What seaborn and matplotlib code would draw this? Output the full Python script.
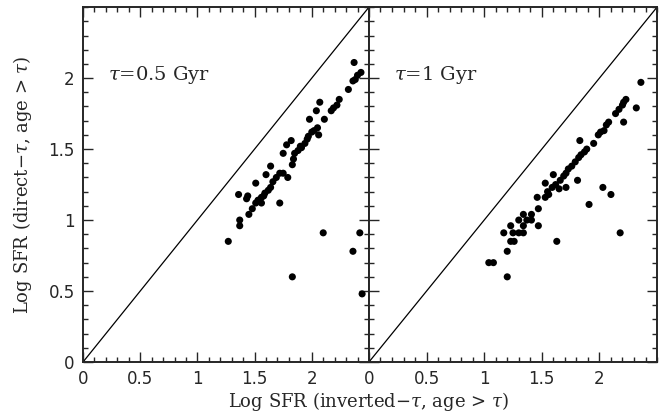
import numpy as np
import pandas as pd
import matplotlib
matplotlib.use("Agg")
import matplotlib.pyplot as plt
from matplotlib.ticker import MultipleLocator, FixedLocator
import seaborn as sns

# ==============================
# Data
# ==============================

left_x = [2.37, 2.43, 2.40, 2.38, 2.36, 2.32, 2.24, 2.22, 2.19, 2.17,
          2.07, 2.04, 2.11, 1.98, 2.05, 2.02, 2.00, 2.06, 1.97, 1.96,
          1.94, 1.91, 1.88, 1.85, 1.82, 1.78, 1.75, 1.84, 1.83, 1.64,
          1.60, 1.72, 1.75, 1.79, 1.69, 1.64, 1.62, 1.59, 1.56, 1.53,
          1.51, 1.56, 1.48, 1.45, 1.51, 1.44, 1.43, 1.36, 1.72, 1.37,
          1.37, 1.27, 2.10, 2.42, 2.36, 1.83, 2.44, 1.58, 1.66, 1.90]
left_y = [2.11, 2.04, 2.02, 1.99, 1.98, 1.92, 1.85, 1.81, 1.79, 1.77,
          1.83, 1.77, 1.71, 1.71, 1.65, 1.63, 1.62, 1.60, 1.59, 1.57,
          1.54, 1.51, 1.49, 1.47, 1.56, 1.53, 1.47, 1.43, 1.39, 1.38,
          1.32, 1.33, 1.33, 1.30, 1.30, 1.23, 1.21, 1.19, 1.16, 1.14,
          1.12, 1.12, 1.08, 1.04, 1.26, 1.17, 1.15, 1.18, 1.12, 1.00,
          0.96, 0.85, 0.91, 0.91, 0.78, 0.60, 0.48, 1.17, 1.27, 1.52]

right_x = [2.36, 2.23, 2.21, 2.20, 2.32, 2.17, 2.14, 2.21, 2.08, 2.06,
           2.04, 2.01, 1.99, 1.83, 1.89, 1.87, 1.84, 1.82, 1.79, 1.76,
           1.73, 1.71, 1.69, 1.66, 1.60, 1.81, 1.53, 1.59, 1.65, 1.71,
           1.56, 1.53, 1.46, 2.03, 2.10, 1.91, 1.47, 1.34, 1.41, 1.30,
           1.37, 1.41, 1.34, 1.47, 1.23, 1.17, 1.25, 1.30, 1.34, 1.23,
           1.26, 1.63, 2.18, 1.20, 1.04, 1.08, 1.20, 1.62, 1.95, 1.55]
right_y = [1.97, 1.85, 1.83, 1.81, 1.79, 1.78, 1.75, 1.69, 1.69, 1.67,
           1.63, 1.62, 1.60, 1.56, 1.50, 1.48, 1.46, 1.44, 1.41, 1.38,
           1.36, 1.33, 1.31, 1.28, 1.32, 1.28, 1.26, 1.23, 1.22, 1.23,
           1.18, 1.16, 1.16, 1.23, 1.18, 1.11, 1.08, 1.04, 1.04, 1.00,
           1.00, 1.00, 0.96, 0.96, 0.96, 0.91, 0.91, 0.91, 0.91, 0.85,
           0.85, 0.85, 0.91, 0.78, 0.70, 0.70, 0.60, 1.25, 1.54, 1.20]

panel_labels = [r"$\tau$=0.5 Gyr", r"$\tau$=1 Gyr"]
tick_values = [0, 0.5, 1, 1.5, 2]
tick_labels = ["0", "0.5", "1", "1.5", "2"]

# ==============================
# Figure
# ==============================

sns.set_style("ticks")
plt.rcParams["font.family"] = ["DejaVu Serif"]
plt.rcParams["mathtext.fontset"] = "dejavuserif"

fig = plt.figure(figsize=(6.61, 4.19), dpi=100)
ax1 = fig.add_axes([0.1256, 0.136, 0.4326, 0.847])
ax2 = fig.add_axes([0.5582, 0.136, 0.4358, 0.847], sharey=ax1)

panels = [
    (ax1, pd.DataFrame({"x": left_x, "y": left_y}), panel_labels[0]),
    (ax2, pd.DataFrame({"x": right_x, "y": right_y}), panel_labels[1]),
]

for ax, df, label in panels:
    sns.lineplot(x=[0, 2.5], y=[0, 2.5], ax=ax, color="black", linewidth=0.9)
    sns.scatterplot(data=df, x="x", y="y", ax=ax, color="black",
                    s=26, edgecolor="none")
    ax.set_xlim(0, 2.5)
    ax.set_ylim(0, 2.5)
    ax.xaxis.set_major_locator(FixedLocator(tick_values))
    ax.set_xticklabels(tick_labels, fontfamily="DejaVu Sans")
    ax.xaxis.set_minor_locator(MultipleLocator(0.1))
    ax.yaxis.set_major_locator(MultipleLocator(0.5))
    ax.yaxis.set_minor_locator(MultipleLocator(0.1))
    ax.tick_params(which="both", direction="in", top=True, right=True,
                   width=1.0, labelsize=12, pad=6)
    ax.tick_params(which="major", length=7)
    ax.tick_params(which="minor", length=3.5)
    for sp in ax.spines.values():
        sp.set_linewidth(1.4)
    ax.text(0.087, 0.81, label, transform=ax.transAxes, fontsize=14,
            va="center", ha="left")
    ax.set_xlabel("")
    ax.set_ylabel("")

ax1.set_yticks(tick_values)
ax1.set_yticklabels(tick_labels, fontfamily="DejaVu Sans")
plt.setp(ax2.get_yticklabels(), visible=False)

ax1.set_ylabel(r"Log SFR (direct$-\tau$, age > $\tau$)", fontsize=13,
               labelpad=10)
fig.text(0.558, 0.015, r"Log SFR (inverted$-\tau$, age > $\tau$)",
         fontsize=13, ha="center", va="bottom")

plt.savefig("out.png", dpi=100)
plt.close()
